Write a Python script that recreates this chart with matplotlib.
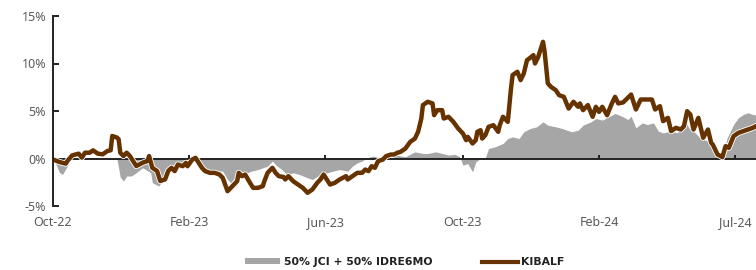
import matplotlib
matplotlib.use("Agg")
import matplotlib.pyplot as plt
import matplotlib.patheffects as pe
from matplotlib.patches import Patch
from matplotlib.lines import Line2D

# trading-day index and cumulative return (%)
kib_day = [0, 4, 8, 9, 12, 16, 18, 20, 23, 25, 28, 31, 34, 36, 37, 40, 41, 42, 44, 46,
           48, 50, 52, 54, 56, 59, 60, 62, 65, 67, 70, 72, 74, 76, 78, 81, 83, 84, 87, 89,
           91, 93, 95, 98, 101, 104, 106, 109, 111, 112, 115, 116, 118, 120, 123, 125, 128, 131, 132, 134,
           137, 139, 141, 144, 145, 147, 150, 153, 156, 159, 162, 165, 167, 169, 171, 173, 176, 179, 183, 184,
           187, 190, 193, 195, 197, 199, 201, 203, 206, 208, 211, 213, 215, 217, 220, 223, 226, 228, 230, 231,
           234, 237, 238, 240, 243, 244, 247, 250, 253, 256, 258, 259, 262, 264, 265, 267, 268, 270, 272, 275,
           278, 279, 281, 284, 286, 287, 290, 292, 294, 296, 298, 300, 301, 303, 306, 307, 309, 311, 314, 316,
           319, 322, 325, 328, 329, 331, 334, 337, 339, 341, 343, 346, 349, 351, 353, 356, 361, 364, 367, 371,
           374, 376, 379, 381, 384, 386, 389, 392, 394, 396, 398, 400, 403, 406, 409, 411, 412, 415, 417, 418,
           420, 422, 425, 428, 431, 434, 437, 439]
kib_ret = [-0.1, -0.37, -0.54, -0.26, 0.33, 0.51, 0.09, 0.61, 0.61, 0.86, 0.51, 0.44, 0.79, 0.86, 2.37, 2.2, 2.02, 0.61, 0.26, 0.61,
           0.26, -0.26, -0.79, -0.61, -0.44, -0.26, 0.26, -0.97, -1.32, -2.37, -2.2, -1.3, -0.98, -1.33, -0.63, -0.81, -0.46, -0.81, -0.11, 0.07,
           -0.46, -0.98, -1.33, -1.51, -1.51, -1.69, -2.04, -3.44, -3.09, -2.91, -2.39, -1.51, -1.86, -1.69, -2.56, -3.09, -3.09, -2.91, -2.39, -1.51,
           -0.98, -1.51, -1.86, -1.95, -2.21, -1.86, -2.39, -2.74, -3.09, -3.61, -3.26, -2.56, -2.21, -1.69, -2.21, -2.74, -2.56, -2.21, -1.86, -2.21,
           -1.86, -1.51, -1.51, -1.16, -1.33, -0.81, -0.98, -0.28, -0.11, 0.25, 0.42, 0.42, 0.6, 0.7, 1.04, 1.74, 2.1, 2.81, 4.21, 5.62,
           5.97, 5.8, 4.56, 5.09, 5.09, 4.21, 4.39, 3.86, 3.16, 2.63, 1.93, 2.28, 1.58, 1.93, 2.81, 2.98, 2.1, 2.46, 3.33, 3.51,
           2.81, 3.51, 4.39, 3.86, 7.37, 8.78, 9.13, 8.25, 8.95, 10.35, 10.6, 10.88, 10.0, 10.7, 12.28, 11.23, 7.9, 7.54, 7.19, 6.67,
           6.49, 5.26, 5.97, 5.44, 5.8, 5.09, 5.62, 4.39, 5.44, 4.91, 5.44, 4.56, 5.8, 6.49, 5.8, 5.9, 6.73, 5.16, 6.21, 6.21,
           6.21, 5.16, 5.51, 3.93, 4.28, 2.88, 3.23, 3.05, 3.4, 4.98, 4.63, 3.05, 4.28, 2.18, 3.05, 1.65, 1.47, 0.42, 0.25, 0.14,
           1.3, 1.12, 2.35, 2.7, 2.88, 3.05, 3.23, 3.4]

bm_day = [0, 1, 4, 6, 9, 11, 19, 23, 29, 34, 40, 42, 44, 46, 49, 52, 56, 61, 62, 66,
          69, 72, 74, 78, 83, 86, 89, 91, 93, 97, 101, 106, 109, 111, 114, 117, 121, 124, 128, 131,
          134, 137, 140, 143, 146, 150, 154, 159, 162, 167, 171, 175, 179, 184, 187, 190, 193, 196, 200, 204,
          209, 212, 214, 220, 224, 226, 231, 234, 239, 243, 247, 251, 254, 256, 259, 262, 264, 267, 270, 272,
          276, 281, 284, 287, 291, 294, 298, 302, 306, 309, 314, 318, 321, 324, 328, 331, 336, 339, 343, 347,
          351, 356, 359, 361, 364, 368, 371, 375, 378, 381, 386, 390, 394, 397, 400, 404, 409, 412, 415, 418,
          421, 425, 428, 431, 434, 437, 439]
bm_ret = [0.0, -0.26, -1.49, -1.67, -0.79, 0.09, -0.05, 0.1, 0.1, 0.0, -0.1, -1.97, -2.37, -1.84, -1.84, -1.49, -0.97, -1.49, -2.54, -2.9,
          -2.2, -1.7, -0.98, -0.81, -0.28, 0.25, -0.11, -0.28, -0.81, -1.16, -1.33, -1.33, -2.21, -2.56, -1.86, -1.33, -1.51, -1.33, -1.16, -0.98,
          -0.81, -0.28, -0.81, -1.16, -1.69, -1.51, -1.69, -2.04, -2.21, -1.69, -1.51, -1.33, -1.16, -1.33, -0.81, -0.46, -0.28, 0.07, 0.25, 0.07,
          0.07, 0.14, 0.36, 0.18, 0.53, 0.7, 0.53, 0.53, 0.7, 0.53, 0.36, 0.43, 0.18, -0.7, -0.53, -1.4, -0.35, 0.0, 0.07, 1.05,
          1.23, 1.58, 2.1, 2.28, 2.1, 2.81, 3.16, 3.33, 3.86, 3.51, 3.33, 3.16, 2.98, 2.81, 2.98, 3.51, 3.86, 4.21, 4.04, 4.39,
          4.74, 4.39, 4.1, 4.46, 3.23, 3.75, 3.58, 3.75, 2.88, 2.7, 2.88, 2.7, 4.28, 3.23, 2.88, 2.18, 1.82, 0.95, 0.42, 0.07,
          2.18, 3.58, 4.28, 4.63, 4.81, 4.63, 4.6]

tick_day = [0, 85, 170, 256, 341, 426]
tick_lbl = ["Oct-22", "Feb-23", "Jun-23", "Oct-23", "Feb-24", "Jul-24"]
y_ticks = [-5, 0, 5, 10, 15]

brown = "#663300"
grey = "#A6A6A6"
txt = "#595959"

plt.rcParams['font.family'] = ['Noto Sans', 'DejaVu Sans']

fig = plt.figure(figsize=(7.56, 2.70), dpi=100)
ax = fig.add_axes([53 / 756, 1 - 206 / 270, 703 / 756, 190 / 270])

ax.fill_between(bm_day, 0, bm_ret, color=grey, lw=0)
ax.plot(kib_day, kib_ret, color=brown, lw=3.2, solid_joinstyle='round',
        path_effects=[pe.Stroke(linewidth=4.4, foreground='white'), pe.Normal()])
ax.axhline(0, color='#222222', lw=1.4, zorder=1.5)

ax.set_xlim(0, 439)
ax.set_ylim(-5, 15)

ax.spines['top'].set_visible(False)
ax.spines['right'].set_visible(False)
ax.spines['bottom'].set_visible(False)
ax.spines['left'].set_linewidth(1.4)
ax.spines['left'].set_color('#222222')

ax.set_yticks(y_ticks)
ax.set_yticklabels([f"{v}%" for v in y_ticks])
ax.tick_params(axis='y', direction='in', length=4, width=1.4, color='#222222',
               labelsize=9, labelcolor=txt, pad=5)

ax.set_xticks(tick_day)
ax.set_xticklabels(tick_lbl)
ax.tick_params(axis='x', length=0, labelsize=9, labelcolor=txt, pad=7)
# small tick marks sitting on the zero line
ax.plot(tick_day[1:], [0] * 5, ls='none', marker=2, ms=3, mew=1.4,
        color='#222222', clip_on=False)

handles = [Patch(facecolor=grey, edgecolor='none'),
           Line2D([], [], color=brown, lw=3)]
leg = ax.legend(handles, ["50% JCI + 50% IDRE6MO", "KIBALF"], loc='center',
                bbox_to_anchor=(0.5, -0.295), ncol=2, frameon=False,
                handlelength=3.3, handleheight=0.5, handletextpad=0.3,
                columnspacing=4.6,
                prop={'family': 'DejaVu Sans', 'size': 7.8, 'weight': 'bold'})
for t in leg.get_texts():
    t.set_color('#222222')

fig.savefig("out.png", dpi=100)
